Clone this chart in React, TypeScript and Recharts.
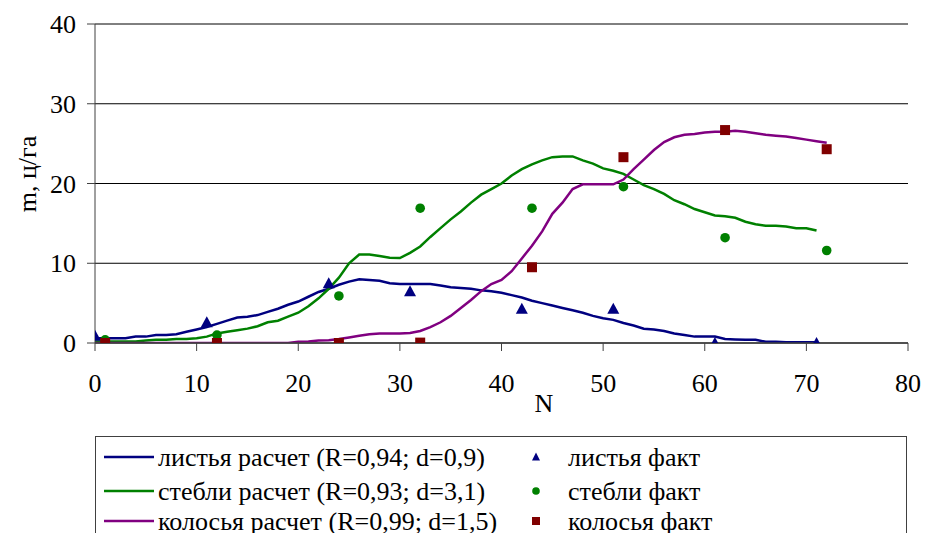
import React from 'react';
import { ComposedChart, Line, Scatter, XAxis, YAxis, CartesianGrid, Legend } from 'recharts';

const calcN = [0,1,2,3,4,5,6,7,8,9,10,11,12,13,14,15,16,17,18,19,20,21,22,23,24,25,26,27,28,29,30,31,32,33,34,35,36,37,38,39,40,41,42,43,44,45,46,47,48,49,50,51,52,53,54,55,56,57,58,59,60,61,62,63,64,65,66,67,68,69,70,71,72];

const leavesCalc = [
  0.6,0.6,0.6,0.6,0.8,0.8,1.0,1.0,1.1,1.4,
  1.7,2.0,2.4,2.8,3.2,3.3,3.5,3.9,4.3,4.8,
  5.2,5.8,6.4,6.8,7.3,7.7,8.0,7.9,7.8,7.5,
  7.4,7.4,7.4,7.4,7.2,7.0,6.9,6.8,6.6,6.5,
  6.3,6.0,5.7,5.3,5.0,4.7,4.4,4.1,3.8,3.4,
  3.1,2.9,2.5,2.2,1.8,1.7,1.5,1.2,1.0,0.8,
  0.8,0.8,0.5,0.45,0.4,0.4,0.15,0.15,0.1,0.1,
  0.1,0.1,
];

const stemsCalc = [
  0.2,0.2,0.2,0.2,0.2,0.3,0.4,0.4,0.5,0.5,
  0.6,0.8,1.2,1.4,1.6,1.8,2.1,2.6,2.8,3.3,
  3.8,4.6,5.6,6.8,8.2,10.0,11.1,11.1,10.9,10.7,
  10.65,11.3,12.1,13.3,14.4,15.5,16.5,17.6,18.6,19.3,
  20.0,21.0,21.8,22.4,22.9,23.3,23.4,23.4,22.9,22.5,
  21.9,21.6,21.2,20.5,19.8,19.3,18.7,17.9,17.4,16.8,
  16.4,16.0,15.9,15.7,15.2,14.9,14.7,14.7,14.6,14.4,
  14.4,14.1,
];

const earsCalc = [
  0,0,0,0,0,0,0,0,0,0,
  0,0,0,0,0,0,0,0,0,0,
  0.15,0.2,0.3,0.35,0.5,0.7,0.9,1.1,1.2,1.2,
  1.2,1.25,1.5,2.0,2.6,3.4,4.4,5.4,6.5,7.4,
  7.9,9.0,10.6,12.2,14.0,16.2,17.6,19.3,19.9,19.9,
  19.9,19.9,20.5,21.8,23.0,24.2,25.2,25.8,26.1,26.2,
  26.4,26.5,26.5,26.6,26.5,26.3,26.1,26.0,25.9,25.7,
  25.5,25.3,25.1,
];

const leavesFactN = [0, 11, 23, 31, 42, 51, 61, 71];
const leavesFact = [0.9, 2.6, 7.5, 6.5, 4.3, 4.3, 0.0, 0.0];
const stemsFactN = [1, 12, 24, 32, 43, 52, 62, 72];
const stemsFact = [0.4, 1.0, 5.9, 16.9, 16.9, 19.6, 13.2, 11.6];
const earsFactN = [1, 12, 24, 32, 43, 52, 62, 72];
const earsFact = [0.0, 0.0, 0.0, 0.05, 9.5, 23.3, 26.7, 24.3];

const xTicks = [0, 10, 20, 30, 40, 50, 60, 70, 80];
const yTicks = [0, 10, 20, 30, 40];

const calcLabels = [
  'листья расчет (R=0,94; d=0,9)',
  'стебли расчет (R=0,93; d=3,1)',
  'колосья расчет (R=0,99; d=1,5)',
];
const factLabels = ['листья факт', 'стебли факт', 'колосья факт'];

const BLUE = '#000080';
const GREEN = '#008000';
const PURPLE = '#800080';
const RED = '#800000';
const FONT = 'Liberation Serif, DejaVu Serif, serif';

const toPts = (xs: number[], ys: number[]) => xs.map((x, i) => ({ x, y: ys[i] }));
const leavesLine = toPts(calcN.slice(0, leavesCalc.length), leavesCalc);
const stemsLine = toPts(calcN.slice(0, stemsCalc.length), stemsCalc);
const earsLine = toPts(calcN.slice(0, earsCalc.length), earsCalc);
const leavesPts = toPts(leavesFactN, leavesFact);
const stemsPts = toPts(stemsFactN, stemsFact);
const earsPts = toPts(earsFactN, earsFact);

const Triangle = (p: any) => {
  const { cx, cy } = p;
  if (cx == null || cy == null) return null;
  return <polygon points={`${cx - 6},${cy + 5} ${cx + 6},${cy + 5} ${cx},${cy - 6}`} fill={BLUE} />;
};
const Circle = (p: any) => {
  const { cx, cy } = p;
  if (cx == null || cy == null) return null;
  return <circle cx={cx} cy={cy} r={4.8} fill={GREEN} />;
};
const Square = (p: any) => {
  const { cx, cy } = p;
  if (cx == null || cy == null) return null;
  return <rect x={cx - 5} y={cy - 5} width={10} height={10} fill={RED} />;
};

const LegendBox = () => {
  const rows = [21, 55, 85];
  const colors = [BLUE, GREEN, PURPLE];
  return (
    <svg width={813} height={130} style={{ display: 'block' }}>
      <rect x={0.5} y={0.5} width={811} height={128} fill="#fff" stroke="#404040" strokeWidth={1} />
      {rows.map((ry, i) => (
        <g key={i}>
          <line x1={9} x2={59} y1={ry} y2={ry} stroke={colors[i]} strokeWidth={2.5} />
          <text x={63} y={ry} dy="0.35em" fontFamily={FONT} fontSize={26} fill="#000">{calcLabels[i]}</text>
          <text x={473} y={ry} dy="0.35em" fontFamily={FONT} fontSize={26} fill="#000">{factLabels[i]}</text>
        </g>
      ))}
      <polygon points={`${441 - 4},${rows[0] + 3.5} ${441 + 4},${rows[0] + 3.5} ${441},${rows[0] - 4.5}`} fill={BLUE} />
      <circle cx={441} cy={rows[1]} r={3.8} fill={GREEN} />
      <rect x={437} y={rows[2] - 4} width={8} height={8} fill={RED} />
    </svg>
  );
};

const tickStyle = { fontFamily: FONT, fontSize: 26, fill: '#000' };

export default function App() {
  return (
    <div style={{ position: 'absolute', left: 0, top: 0, width: 925, height: 533, overflow: 'hidden', background: '#fff', fontFamily: FONT }}>
      <ComposedChart width={925} height={533} margin={{ top: 24, right: 17, bottom: 130, left: 0 }}>
        <CartesianGrid horizontal={true} vertical={false} stroke="#000" strokeWidth={1} />
        <XAxis
          dataKey="x"
          type="number"
          domain={[0, 80]}
          ticks={xTicks}
          allowDataOverflow
          height={60}
          tickSize={8}
          tickMargin={23}
          tick={tickStyle}
          axisLine={{ stroke: '#404040', strokeWidth: 1.5 }}
          tickLine={{ stroke: '#404040' }}
          label={{
            content: (props: any) => {
              const vb = props.viewBox || {};
              return (
                <text x={vb.x + vb.width * 0.552} y={vb.y + 69} textAnchor="middle" fontFamily={FONT} fontSize={26} fill="#000">N</text>
              );
            },
          }}
        />
        <YAxis
          type="number"
          domain={[0, 40]}
          ticks={yTicks}
          allowDataOverflow
          width={95}
          tickSize={8}
          tickMargin={11}
          tick={tickStyle}
          axisLine={{ stroke: '#404040', strokeWidth: 1 }}
          tickLine={{ stroke: '#404040' }}
          label={{
            content: (props: any) => {
              const vb = props.viewBox || {};
              const cx = 27;
              const cy = vb.y + 150;
              return (
                <text x={cx} y={cy} transform={`rotate(-90 ${cx} ${cy})`} textAnchor="middle" dominantBaseline="central" fontFamily={FONT} fontSize={26} fill="#000">m, ц/га</text>
              );
            },
          }}
        />
        <Line data={leavesLine} dataKey="y" stroke={BLUE} strokeWidth={2.5} dot={false} isAnimationActive={false} type="linear" />
        <Line data={stemsLine} dataKey="y" stroke={GREEN} strokeWidth={2.5} dot={false} isAnimationActive={false} type="linear" />
        <Line data={earsLine} dataKey="y" stroke={PURPLE} strokeWidth={2.5} dot={false} isAnimationActive={false} type="linear" />
        <Scatter data={leavesPts} dataKey="y" shape={Triangle} isAnimationActive={false} />
        <Scatter data={stemsPts} dataKey="y" shape={Circle} isAnimationActive={false} />
        <Scatter data={earsPts} dataKey="y" shape={Square} isAnimationActive={false} />
        <Legend
          layout="horizontal"
          verticalAlign="middle"
          align="center"
          wrapperStyle={{ left: 95, top: 436, width: 813, height: 130 }}
          content={() => <LegendBox />}
        />
      </ComposedChart>
    </div>
  );
}
